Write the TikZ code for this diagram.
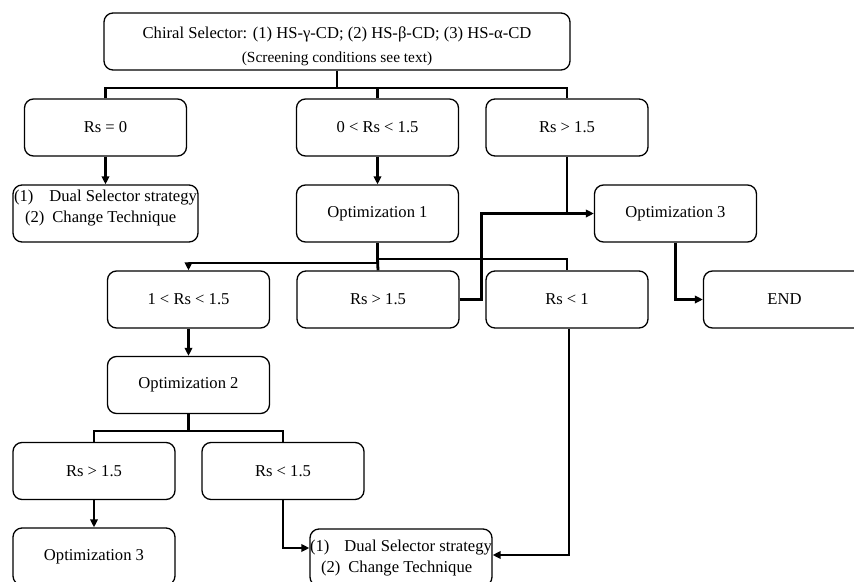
\documentclass[tikz,border=0pt]{standalone}
\usepackage{fontspec}
\setmainfont{Liberation Serif}
\usetikzlibrary{arrows.meta}
\begin{document}
\begin{tikzpicture}[x=1pt,y=-1pt,
  txt/.style={font=\fontsize{16.6}{21}\selectfont},
  box/.style={draw,line width=1.3pt,rounded corners=9pt,minimum width=162pt,
    minimum height=57pt,inner sep=0pt,txt},
  lbl/.style={inner sep=0pt,align=left,txt},
  link/.style={line width=2.8pt},
  arr/.style={link,-{Triangle[length=8pt,width=7.5pt]}}]
\clip (0,0) rectangle (854,581);

% selector and first screening outcomes
\node[box,minimum width=466pt] (top) at (337,41.5) {};
\node[inner sep=0pt,align=center,txt] (toptxt) at (337,46)
  {Chiral Selector: (1) HS-γ-CD; (2) HS-β-CD; (3) HS-α-CD\\[3pt]
   {\fontsize{15.4}{18}\selectfont (Screening conditions see text)}};
\node[box] (r0)   at (105.5,127.5) {Rs = 0};
\node[box] (rmid) at (377.5,127.5) {0 < Rs < 1.5};
\node[box] (rhi)  at (567,127.5)   {Rs > 1.5};

% second level
\node[box,minimum width=185pt] (dual1) at (105.5,213.5) {};
\node[lbl] (dual1txt) at (105.5,208)
  {(1)\hspace{16pt}Dual Selector strategy\\
   \hspace{11pt}(2)\hspace{8pt}Change Technique};
\node[box] (opt1)  at (377.5,213.5) {Optimization 1};
\node[box] (opt3a) at (675.5,213.5) {Optimization 3};

% outcomes of optimization 1
\node[box] (r14)  at (188.5,299.5) {1 < Rs < 1.5};
\node[box] (rhi2) at (378,299.5)   {Rs > 1.5};
\node[box] (rlo1) at (567,299.5)   {Rs < 1};
\node[box] (endn) at (784.5,299.5) {END};

% optimization 2 branch
\node[box] (opt2) at (188.5,385)   {Optimization 2};
\node[box] (rhi3) at (94,471)      {Rs > 1.5};
\node[box] (rlo3) at (283,471)     {Rs < 1.5};
\node[box] (opt3b) at (94,556.5)   {Optimization 3};
\node[box,minimum width=182pt] (dual2) at (401,557.5) {};
\node[lbl] (dual2txt) at (401,558)
  {(1)\hspace{15pt}Dual Selector strategy\\
   \hspace{11pt}(2)\hspace{8pt}Change Technique};

% connectors from the selector
\coordinate (b1) at (337,88);
\draw[link] (top.south) -- (b1);
\draw[link] (r0.north) |- (b1) -| (rhi.north);
\draw[link] (rmid.north) -- (rmid.north |- b1);
\draw[arr] (r0.south) -- (dual1.north);
\draw[arr] (rmid.south) -- (opt1.north);
\draw[arr] (rhi.south) |- (opt3a.west);
\coordinate (j3) at (rhi.south |- opt3a.west);
\draw[link] (rhi2.east) -- ++(22,0) |- (j3);

% connectors from optimization 1
\coordinate (b2) at (377.5,259);
\coordinate (b3) at (377.5,263);
\draw[link] (opt1.south) -- (b3);
\draw[arr] (b3) -| (r14.north);
\draw[link] (b2) -| (rlo1.north);
\draw[link] (b2) -- (rhi2.north);
\draw[arr] (opt3a.south) |- (endn.west);

% connectors from optimization 2
\draw[arr] (r14.south) -- (opt2.north);
\coordinate (b4) at (188.5,431);
\draw[link] (opt2.south) -- (b4);
\draw[link] (rhi3.north) |- (b4) -| (rlo3.north);
\draw[arr] (rhi3.south) -- (opt3b.north);
\draw[arr] (rlo3.south) |- ([yshift=9.5pt]dual2.west);
\draw[arr] ([xshift=2pt]rlo1.south) |- ([yshift=2.5pt]dual2.east);
\end{tikzpicture}
\end{document}
